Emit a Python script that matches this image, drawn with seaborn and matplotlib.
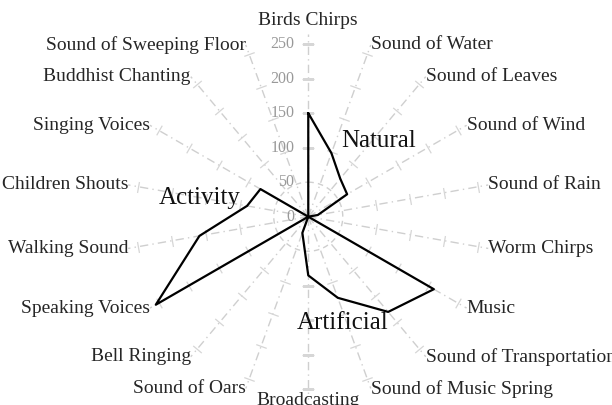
import numpy as np
import pandas as pd
import matplotlib
import matplotlib.pyplot as plt
import seaborn as sns

matplotlib.use('Agg')

categories = [
    'Birds Chirps', 'Sound of Water', 'Sound of Leaves', 'Sound of Wind',
    'Sound of Rain', 'Worm Chirps', 'Music', 'Sound of Transportation',
    'Sound of Music Spring', 'Broadcasting', 'Sound of Oars', 'Bell Ringing',
    'Speaking Voices', 'Walking Sound', 'Children Shouts', 'Singing Voices',
    'Buddhist Chanting', 'Sound of Sweeping Floor',
]
natural = [150, 98, 72, 65, 14, 0, 0, 0, 0, 0, 0, 0, 0, 0, 0, 0, 0, 0]
artificial = [0, 0, 0, 0, 0, 0, 210, 180, 125, 85, 25, 0, 0, 0, 0, 0, 0, 0]
activity = [0, 0, 0, 0, 0, 0, 0, 0, 0, 0, 0, 0, 255, 160, 90, 80, 0, 0]
r_ticks = [0, 50, 100, 150, 200, 250]

# where the group names sit: (angle in degrees clockwise from top, radius)
group_pos = {
    'Natural': (43, 150),
    'Activity': (280, 160),
    'Artificial': (162, 162),
}

sns.set_style('white')
plt.rcParams['font.family'] = ['Liberation Serif', 'DejaVu Serif']

angles = np.deg2rad(np.arange(len(categories)) * 360 / len(categories))

rows = []
for name, values in [('Natural', natural), ('Artificial', artificial), ('Activity', activity)]:
    for i in list(range(len(categories))) + [0]:
        rows.append({'group': name, 'angle': angles[i], 'value': values[i]})
df = pd.DataFrame(rows)

fig = plt.figure(figsize=(6.12, 4.05), dpi=100)
ax = fig.add_axes([0.2047, 0.0131, 0.598, 0.9037], projection='polar')
ax.set_theta_zero_location('N')
ax.set_theta_direction(-1)

grid_col = '#cfcfcf'
ax.set_xticks(angles)
ax.set_xticklabels([])
ax.set_yticks(r_ticks)
ax.set_yticklabels([])
ax.yaxis.grid(False)
ax.xaxis.grid(True, color=grid_col, linestyle=(0, (6, 3, 1, 3)), linewidth=1)
ax.spines['polar'].set_visible(False)

# dashed ring at 50 and small cross marks on every spoke
ring = np.linspace(0, 2 * np.pi, 300)
ax.plot(ring, np.full_like(ring, 50), color=grid_col, linestyle=(0, (4, 3)), linewidth=1)
for a in angles:
    ax.plot([a] * 4, r_ticks[2:], linestyle='none', color='#d6d6d6',
            marker=(2, 0, 90 - np.rad2deg(a)), markersize=8, markeredgewidth=0.9)

sns.lineplot(data=df, x='angle', y='value', units='group', estimator=None,
             sort=False, color='black', linewidth=1.6, ax=ax)
ax.set_xlabel('')
ax.set_ylabel('')
ax.set_ylim(0, 265)

for r in r_ticks:
    ax.annotate(str(r), xy=(0, r), xytext=(-10, 0), textcoords='offset points',
                ha='right', va='center', color='#999999', fontsize=11.5)

for a, label in zip(angles, categories):
    s, c = np.sin(a), np.cos(a)
    if abs(s) < 0.1:
        r = 272 if c > 0 else 254
        ax.text(a, r, label, ha='center', va='bottom' if c > 0 else 'top',
                fontsize=14, color='#262626')
    else:
        ax.text(a, 265, label, ha='left' if s > 0 else 'right', va='center',
                fontsize=14, color='#262626')

for name, (deg, r) in group_pos.items():
    ax.text(np.deg2rad(deg), r, name, ha='center', va='center',
            fontsize=18, color='#111111')

fig.savefig('out.png', dpi=100)
